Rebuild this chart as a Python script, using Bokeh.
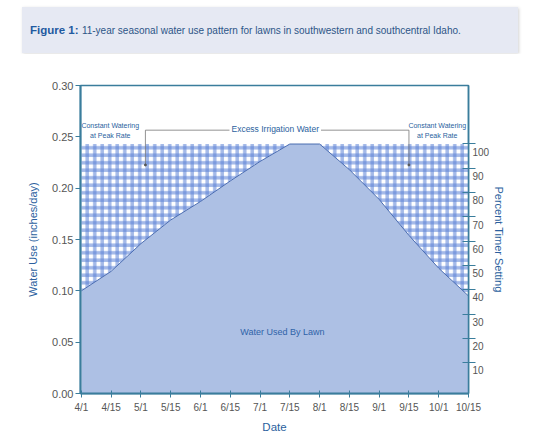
from bokeh.plotting import figure
from bokeh.models import Range1d, LinearAxis, FixedTicker, Label, NumeralTickFormatter, Div
from bokeh.layouts import column
from bokeh.embed import file_html
from bokeh.resources import INLINE
from bokeh.core.properties import value

# ---------------- data ----------------
dates = ["4/1", "4/15", "5/1", "5/15", "6/1", "6/15", "7/1", "7/15",
         "8/1", "8/15", "9/1", "9/15", "10/1", "10/15"]
water_use = [0.100, 0.119, 0.146, 0.169, 0.187, 0.207, 0.226, 0.243,
             0.243, 0.218, 0.189, 0.154, 0.122, 0.095]
peak_rate = max(water_use)
y_ticks = [0.00, 0.05, 0.10, 0.15, 0.20, 0.25, 0.30]
pct_ticks = [10, 20, 30, 40, 50, 60, 70, 80, 90, 100]

title_bold = "Figure 1:"
title_rest = "11-year seasonal water use pattern for lawns in southwestern and southcentral Idaho."

# ---------------- style ----------------
FONT = "Liberation Sans"
AX = "#3a7d9c"
TICK_TXT = "#555555"
BLUE_TXT = "#2b5f9e"
LAWN = "#adc0e4"
GING = "#5a7fd6"

# ---------------- banner ----------------
banner = Div(
    text=('<div style="font-family:\'Liberation Sans\',Arial,sans-serif;'
          'line-height:46px;padding-left:8px;white-space:nowrap;color:#2d5587;">'
          '<span style="font-weight:bold;font-size:11.5px;color:#1f5aa0;">' + title_bold +
          '</span> <span style="font-size:10px;">' + title_rest + '</span></div>'),
    width=496, height=46, margin=(7, 0, 0, 22),
    styles={"background-color": "#e6e9f3",
            "box-shadow": "1px 1px 3px rgba(0,0,0,0.18)"})

# ---------------- main chart ----------------
n = len(dates)
x = list(range(n))
peak = [peak_rate] * n

p = figure(width=524, height=382, x_range=Range1d(-0.03, 13.0), y_range=Range1d(0, 0.30),
           output_backend="svg", toolbar_location=None,
           min_border_left=80, min_border_right=56, min_border_top=32, min_border_bottom=40,
           outline_line_color=AX, outline_line_width=1.5)
p.xgrid.visible = False
p.ygrid.visible = False
p.background_fill_color = "white"
p.border_fill_color = "white"

# water used by lawn
p.varea(x=x, y1=[0] * n, y2=water_use, fill_color=LAWN)
# excess irrigation water (gingham)
p.varea(x=x, y1=water_use, y2=peak, fill_color="white")
p.varea(x=x, y1=water_use, y2=peak, fill_color="white", fill_alpha=0,
        hatch_pattern="vertical_line", hatch_color=GING, hatch_alpha=0.55,
        hatch_scale=7.5, hatch_weight=3.5)
p.varea(x=x, y1=water_use, y2=peak, fill_color="white", fill_alpha=0,
        hatch_pattern="horizontal_line", hatch_color=GING, hatch_alpha=0.55,
        hatch_scale=7.5, hatch_weight=3.5)
p.line(x=x, y=water_use, line_color="#4a6cb0", line_width=1)

# bracket annotation
bx = [2.15, 2.15, 11.0, 11.0]
by = [0.2226, 0.2565, 0.2565, 0.2226]
p.line(x=bx, y=by, line_color="#777777", line_width=0.8)
p.scatter(x=[2.15, 11.0], y=[0.2226, 0.2226], size=2, color="#555555")

p.add_layout(Label(x=6.51, y=0.2565, text="Excess Irrigation Water", text_font=FONT,
                   text_font_size="8.5px", text_color=BLUE_TXT, text_align="center",
                   text_baseline="middle", background_fill_color="white",
                   padding=dict(left=2, right=2, top=0, bottom=0), y_offset=1))
p.text(x=[0.97, 11.95], y=[0.256, 0.256],
       text=["Constant Watering\nat Peak Rate", "Constant Watering\nat Peak Rate"],
       text_font=value(FONT), text_font_size="7px", text_color=BLUE_TXT,
       text_align="center", text_baseline="middle", text_line_height=1.45)
p.text(x=[6.75], y=[0.060], text=["Water Used By Lawn"], text_font=value(FONT),
       text_font_size="9px", text_color="#2f63a8", text_align="center",
       text_baseline="middle")

# x axis
xa = p.xaxis[0]
xa.ticker = FixedTicker(ticks=x)
xa.major_label_overrides = {i: d for i, d in enumerate(dates)}
xa.minor_tick_line_color = None
xa.major_tick_in = 3
xa.major_tick_out = 4
xa.major_tick_line_color = AX
xa.axis_line_color = AX
xa.axis_line_width = 2
xa.major_label_standoff = 4
xa.major_label_text_font = FONT
xa.major_label_text_font_size = "10px"
xa.major_label_text_color = TICK_TXT
xa.axis_label = "Date"
xa.axis_label_standoff = 5
xa.axis_label_text_font = FONT
xa.axis_label_text_font_size = "11.5px"
xa.axis_label_text_font_style = "normal"
xa.axis_label_text_color = BLUE_TXT

# left y axis
ya = p.yaxis[0]
ya.ticker = FixedTicker(ticks=y_ticks)
ya.formatter = NumeralTickFormatter(format="0.00")
ya.minor_tick_line_color = None
ya.major_tick_in = 0
ya.major_tick_out = 5
ya.major_tick_line_color = AX
ya.axis_line_color = AX
ya.axis_line_width = 2
ya.major_label_standoff = 2
ya.major_label_text_font = FONT
ya.major_label_text_font_size = "11px"
ya.major_label_text_color = TICK_TXT
ya.axis_label = "Water Use (inches/day)"
ya.axis_label_standoff = 10
ya.axis_label_text_font = FONT
ya.axis_label_text_font_size = "11px"
ya.axis_label_text_font_style = "normal"
ya.axis_label_text_color = BLUE_TXT

# right axis (percent timer setting): ticks on one axis, labels on a second one
p.extra_y_ranges = {"pct": Range1d(-2.7, 124.0), "pct_lbl": Range1d(0.5, 127.2)}
axA = LinearAxis(y_range_name="pct", ticker=FixedTicker(ticks=pct_ticks),
                 major_tick_in=6, major_tick_out=7, major_label_text_font_size="1px",
                 major_label_text_color=None,
                 major_label_standoff=0, axis_line_color=AX, axis_line_width=1.5,
                 major_tick_line_color=AX, minor_tick_line_color=None)
axB = LinearAxis(y_range_name="pct_lbl", ticker=FixedTicker(ticks=pct_ticks),
                 axis_line_color=None, major_tick_line_color=None,
                 minor_tick_line_color=None, major_tick_in=0, major_tick_out=0,
                 major_label_standoff=-3, major_label_text_font=FONT,
                 major_label_text_font_size="10px", major_label_text_color=TICK_TXT,
                 axis_label="Percent Timer Setting", axis_label_standoff=1,
                 axis_label_text_font=FONT, axis_label_text_font_size="11px",
                 axis_label_text_font_style="normal", axis_label_text_color=BLUE_TXT)
p.add_layout(axA, "right")
p.add_layout(axB, "right")

layout = column(banner, p, spacing=0)
open("out.html", "w").write(file_html(layout, INLINE))
